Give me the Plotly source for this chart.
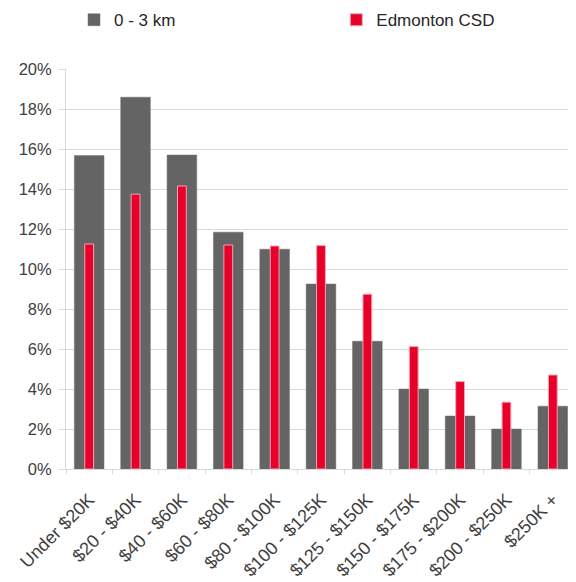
import plotly.graph_objects as go

categories = ["Under $20K", "$20 - $40K", "$40 - $60K", "$60 - $80K", "$80 - $100K",
              "$100 - $125K", "$125 - $150K", "$150 - $175K", "$175 - $200K",
              "$200 - $250K", "$250K +"]
km_0_3 = [15.67, 18.59, 15.70, 11.84, 10.99, 9.25, 6.39, 4.00, 2.65, 2.00, 3.14]
edmonton_csd = [11.25, 13.74, 14.15, 11.20, 11.15, 11.17, 8.74, 6.12, 4.37, 3.34, 4.70]
y_ticks = [0, 2, 4, 6, 8, 10, 12, 14, 16, 18, 20]

fig = go.Figure()
fig.add_trace(go.Bar(
    x=categories, y=km_0_3, name="0 - 3 km", width=0.64, legend="legend",
    marker=dict(color="#646464", line=dict(color="#707070", width=0.5)),
))
fig.add_trace(go.Bar(
    x=categories, y=edmonton_csd, name="Edmonton CSD", width=0.19, legend="legend2",
    marker=dict(color="#E6002A", line=dict(color="#F4A3B2", width=1)),
))

legend_style = dict(
    orientation="h", yanchor="middle", y=1.122, xanchor="left",
    font=dict(size=17, color="#262626"),
    itemclick=False, itemdoubleclick=False, bgcolor="rgba(0,0,0,0)",
)

fig.update_layout(
    width=568, height=574,
    barmode="overlay",
    paper_bgcolor="white", plot_bgcolor="white",
    margin=dict(l=58, r=0, t=61, b=113, autoexpand=False),
    font=dict(family="Liberation Sans, Arial, sans-serif", color="#404040"),
    showlegend=True,
    legend=dict(legend_style, x=0.0157),
    legend2=dict(legend_style, x=0.53),
    xaxis=dict(
        type="category", tickangle=-45, tickson="boundaries",
        ticks="outside", ticklen=4, tickcolor="#d9d9d9",
        showline=True, linecolor="#d9d9d9", linewidth=1,
        tickfont=dict(size=18, color="#404040"),
        showgrid=False, range=[-0.5, 10.5], automargin=False,
        ticklabelstandoff=12,
    ),
    yaxis=dict(
        range=[0, 20], tickvals=y_ticks, ticktext=[f"{v}%" for v in y_ticks],
        showgrid=True, gridcolor="#d9d9d9", gridwidth=1,
        ticks="outside", ticklen=6, tickcolor="#d9d9d9",
        showline=True, linecolor="#d9d9d9", linewidth=1,
        tickfont=dict(size=16.5, color="#404040"),
        zeroline=False, ticklabelstandoff=4, automargin=False,
    ),
)

fig.write_html("out.html")
